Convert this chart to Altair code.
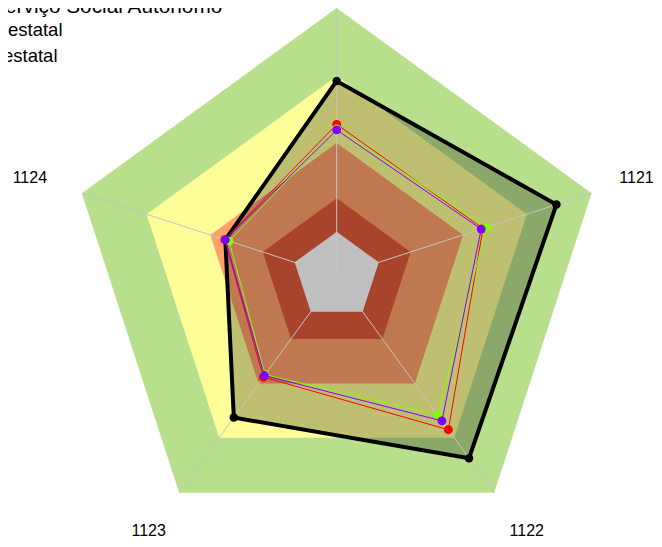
import altair as alt
import pandas as pd

# ---------------- data ----------------
categories = ["", "1121", "1122", "1123", "1124"]          # clockwise from top
axis_index = [0, 1, 2, 3, 4]

band_names = ["b5", "b4", "b3", "b2", "b1"]
band_levels = [100, 74.6, 49.6, 29.0, 16.5]
band_colors = ["#b8e08c", "#ffff99", "#ffa06b", "#e05b3b", "#ffffff"]

series_black = [72.8, 86.2, 84.0, 65.3, 43.7]
series_red = [56.6, 57.4, 70.9, 46.6, 43.9]
series_green = [54.9, 58.8, 64.2, 45.5, 42.2]
series_purple = [54.5, 56.7, 66.8, 45.9, 43.7]

legend_lines = ["erviço Social Autonomo", "estatal", "estatal"]

# ---------------- tables ----------------
bands = pd.DataFrame([
    {"band": b, "idx": i, "value": lv}
    for b, lv in zip(band_names, band_levels) for i in axis_index
])

def series_df(name, vals):
    return pd.DataFrame({"series": name, "idx": axis_index, "value": vals})

black = series_df("black", series_black)
red = series_df("red", series_red)
green = series_df("green", series_green)
purple = series_df("purple", series_purple)

spokes = pd.DataFrame({"idx": axis_index, "value": [100] * 5})
labels = pd.DataFrame({"idx": axis_index, "value": [120] * 5, "label": categories})

W, H = 646, 531
xs = alt.Scale(domain=[-122.65, 118.40], nice=False, zero=False)
ys = alt.Scale(domain=[-98.13, 100.0], nice=False, zero=False)

def polar(ch):
    return ch.transform_calculate(
        px="datum.value * sin(datum.idx * 2 * PI / 5)",
        py="datum.value * cos(datum.idx * 2 * PI / 5)",
    )

X = alt.X("px:Q", scale=xs, axis=None)
Y = alt.Y("py:Q", scale=ys, axis=None)

band_layer = polar(alt.Chart(bands)).mark_line(
    interpolate="linear-closed", strokeWidth=0, fillOpacity=1
).encode(
    x=X, y=Y, order="idx:Q",
    detail="band:N",
    fill=alt.Fill("band:N", scale=alt.Scale(domain=band_names, range=band_colors), legend=None),
)

black_fill = polar(alt.Chart(black)).mark_line(
    interpolate="linear-closed", strokeWidth=0, fill="#000000", fillOpacity=0.25
).encode(x=X, y=Y, order="idx:Q")

spoke_layer = alt.Chart(spokes).transform_calculate(
    px="datum.value * sin(datum.idx * 2 * PI / 5)",
    py="datum.value * cos(datum.idx * 2 * PI / 5)",
    ox="0", oy="0",
).mark_rule(color="#c4c4c4", strokeWidth=1).encode(
    x=alt.X("ox:Q", scale=xs, axis=None), y=alt.Y("oy:Q", scale=ys, axis=None),
    x2="px:Q", y2="py:Q",
)

def line_and_points(df, color, width, size):
    ln = polar(alt.Chart(df)).mark_line(
        interpolate="linear-closed", color=color, strokeWidth=width
    ).encode(x=X, y=Y, order="idx:Q")
    pt = polar(alt.Chart(df)).mark_circle(color=color, size=size, opacity=1).encode(x=X, y=Y)
    return [ln, pt]

layers = [band_layer, black_fill, spoke_layer]
layers += line_and_points(black, "#000000", 4, 72)
layers += line_and_points(red, "#ff0000", 1, 78)
layers += line_and_points(green, "#80ff00", 1, 78)
layers += line_and_points(purple, "#8000ff", 1, 78)

def label_layer(filt, dx, dy):
    return polar(alt.Chart(labels)).transform_filter(filt).mark_text(
        font="Liberation Sans", fontSize=16, color="#000000", align="center",
        baseline="middle", dx=dx, dy=dy
    ).encode(x=X, y=Y, text="label:N")

layers.append(label_layer("datum.idx == 1", -6, 1))
layers.append(label_layer("datum.idx == 4", -1, 1))
layers.append(label_layer("datum.idx == 2 || datum.idx == 3", 1, -5))

leg = pd.DataFrame({"t": legend_lines, "k": [0, 1, 2]})
leg_layer = alt.Chart(leg).mark_text(
    font="Liberation Sans", color="#000000", align="left", baseline="alphabetic"
).encode(
    x=alt.X("lx:Q", scale=alt.Scale(domain=[0, W], range=[0, W]), axis=None),
    y=alt.Y("ly:Q", scale=alt.Scale(domain=[0, H], range=[0, H]), axis=None),
    text="t:N",
    size=alt.Size("fs:Q", scale=None, legend=None),
).transform_calculate(
    lx="datum.k == 0 ? -3 : (datum.k == 1 ? 0 : -5)",
    ly="datum.k == 0 ? 5 : 2 + datum.k * 25.8",
    fs="datum.k == 0 ? 20.8 : 18.5",
)

chart = alt.layer(*layers).resolve_scale(x="shared", y="shared")
chart = alt.layer(chart, leg_layer).resolve_scale(x="independent", y="independent").properties(
    width=W, height=H, padding=0, autosize="none"
).configure_view(stroke=None)

chart.save("out.html", embed_options={"renderer": "svg", "actions": False})
